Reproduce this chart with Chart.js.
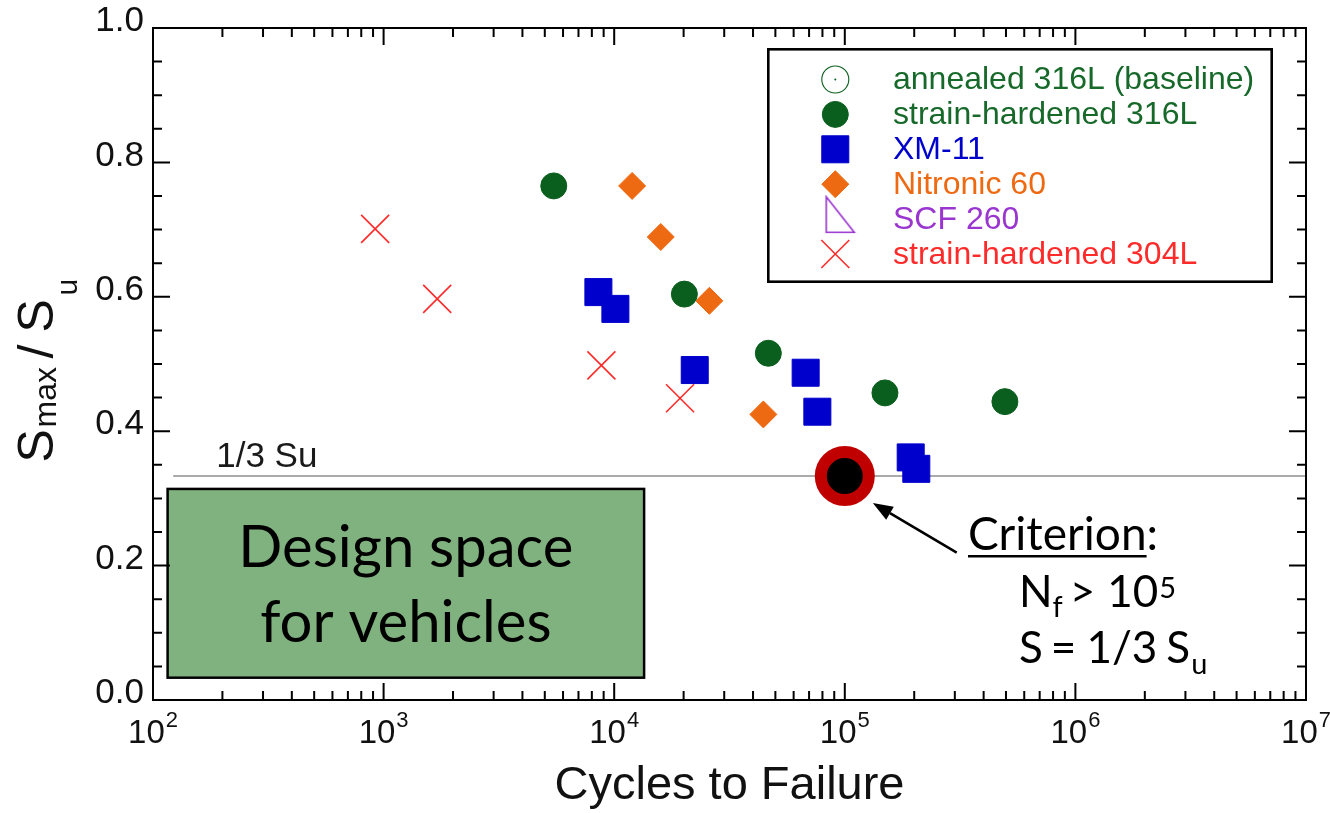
<!DOCTYPE html>
<html>
<head>
<meta charset="utf-8">
<title>Fatigue life of strain-hardened stainless steels</title>
<script src="https://cdn.jsdelivr.net/npm/chart.js@4.4.1/dist/chart.umd.min.js"></script>
<style>
  html, body { margin: 0; padding: 0; background: #ffffff; }
  #wrap { width: 1330px; height: 813px; position: relative; }
</style>
</head>
<body>
<div id="wrap"><canvas id="chart" width="1330" height="813"></canvas></div>
<script>
// ---- data: cycles to failure (N) and normalised max stress (Smax/Su) ----
const seriesNames = ['annealed 316L (baseline)', 'strain-hardened 316L', 'XM-11', 'Nitronic 60', 'SCF 260', 'strain-hardened 304L'];

const annealed316L_N = [];
const annealed316L_S = [];

const sh316L_N = [5470, 20150, 46600, 149300, 494600];
const sh316L_S = [0.765, 0.604, 0.516, 0.457, 0.444];

const xm11_N = [8540, 10120, 22350, 67650, 76030, 193100, 204200];
const xm11_S = [0.607, 0.582, 0.491, 0.487, 0.429, 0.361, 0.344];

const nitronic60_N = [11960, 15920, 25860, 44340];
const nitronic60_S = [0.765, 0.689, 0.594, 0.425];

const scf260_N = [];
const scf260_S = [];

const sh304L_N = [919, 1708, 8800, 19300];
const sh304L_S = [0.701, 0.597, 0.498, 0.449];

// design criterion: Nf > 1e5 at S = 1/3 Su
const criterionN = [1e5];
const criterionS = [1 / 3];
const thirdSuLevel = 1 / 3;

// shaded "design space" region (N range, S range)
const designSpaceN = [115.7, 13480];
const designSpaceS = [0.0332, 0.3141];

// axis ticks
const xDecades = [1e2, 1e3, 1e4, 1e5, 1e6, 1e7];
const yTickValues = [0, 0.2, 0.4, 0.6, 0.8, 1.0];

const pts = (xs, ys) => xs.map((x, i) => ({ x: x, y: ys[i] }));

const HELV = '"Liberation Sans", Arial, Helvetica, sans-serif';
const CALI = 'Lato, "Open Sans", sans-serif';

const GREEN = '#0b5f1e';
const BLUE = '#0000cd';
const ORANGE = '#ee6a12';
const PURPLE = '#9a35d0';
const RED = '#ff2a2a';

// right-triangle marker used for SCF 260
function makeRightTriangle() {
  const c = document.createElement('canvas');
  c.width = 44; c.height = 48;
  const g = c.getContext('2d');
  g.strokeStyle = PURPLE;
  g.lineWidth = 1.6;
  g.beginPath();
  g.moveTo(13, 1.7);
  g.lineTo(13, 37.3);
  g.lineTo(41, 37.3);
  g.closePath();
  g.stroke();
  return c;
}

const datasets = [
  { label: seriesNames[0], data: pts(annealed316L_N, annealed316L_S), pointStyle: 'circle', pointRadius: 13.5,
    backgroundColor: 'rgba(0,0,0,0)', borderColor: GREEN, borderWidth: 1.1, textColor: '#17692a', centerDot: true },
  { label: seriesNames[1], data: pts(sh316L_N, sh316L_S), pointStyle: 'circle', pointRadius: 13,
    backgroundColor: GREEN, borderColor: GREEN, borderWidth: 1, textColor: '#17692a' },
  { label: seriesNames[2], data: pts(xm11_N, xm11_S), pointStyle: 'rect', pointRadius: 19.1,
    backgroundColor: BLUE, borderColor: BLUE, borderWidth: 1, textColor: BLUE },
  { label: seriesNames[3], data: pts(nitronic60_N, nitronic60_S), pointStyle: 'rectRot', pointRadius: 13.5,
    backgroundColor: ORANGE, borderColor: ORANGE, borderWidth: 1, textColor: ORANGE },
  { label: seriesNames[4], data: pts(scf260_N, scf260_S), pointStyle: makeRightTriangle(), pointRadius: 14,
    backgroundColor: PURPLE, borderColor: PURPLE, borderWidth: 1.6, textColor: PURPLE },
  { label: seriesNames[5], data: pts(sh304L_N, sh304L_S), pointStyle: 'crossRot', pointRadius: 19.8,
    backgroundColor: RED, borderColor: RED, borderWidth: 1.6, textColor: RED },
  { label: 'criterion', data: pts(criterionN, criterionS), pointStyle: 'circle', pointRadius: 24,
    backgroundColor: '#000000', borderColor: '#c00000', borderWidth: 12, inLegend: false }
];

// text runs placed at fixed x; each run: [text, size, baselineShift, x]
function drawRunsAt(ctx, y, runs, family, color) {
  ctx.fillStyle = color;
  ctx.textAlign = 'left';
  ctx.textBaseline = 'alphabetic';
  for (const r of runs) {
    ctx.font = r[1] + 'px ' + family;
    ctx.fillText(r[0], r[3], y + (r[2] || 0));
  }
}

// text runs laid out one after another; each run: [text, size, baselineShift, gapAfter]
function drawRunsSeq(ctx, x, y, runs, family, color) {
  ctx.fillStyle = color;
  ctx.textAlign = 'left';
  ctx.textBaseline = 'alphabetic';
  let cx = x;
  const spans = [];
  for (const r of runs) {
    ctx.font = r[1] + 'px ' + family;
    ctx.fillText(r[0], cx, y + (r[2] || 0));
    const w = ctx.measureText(r[0]).width;
    spans.push([cx, w]);
    cx += w + (r[3] || 0);
  }
  return spans;
}

function legendSymbol(ctx, ds, x, y) {
  ctx.save();
  const st = ds.pointStyle;
  if (st instanceof HTMLCanvasElement) {
    ctx.drawImage(st, x - st.width / 2, y - st.height / 2);
    ctx.restore();
    return;
  }
  ctx.fillStyle = ds.backgroundColor;
  ctx.strokeStyle = ds.borderColor;
  ctx.lineWidth = ds.borderWidth;
  const r = ds.pointRadius;
  ctx.beginPath();
  if (st === 'circle') {
    ctx.arc(x, y, r, 0, Math.PI * 2);
  } else if (st === 'rect') {
    const h = r * Math.SQRT1_2;
    ctx.rect(x - h, y - h, 2 * h, 2 * h);
  } else if (st === 'rectRot') {
    ctx.moveTo(x - r, y); ctx.lineTo(x, y - r); ctx.lineTo(x + r, y); ctx.lineTo(x, y + r); ctx.closePath();
  } else if (st === 'crossRot') {
    const d = r * Math.SQRT1_2;
    ctx.moveTo(x - d, y - d); ctx.lineTo(x + d, y + d);
    ctx.moveTo(x + d, y - d); ctx.lineTo(x - d, y + d);
  }
  if (st !== 'crossRot') ctx.fill();
  ctx.stroke();
  if (ds.centerDot) {
    ctx.beginPath();
    ctx.fillStyle = ds.borderColor;
    ctx.arc(x, y, 1, 0, Math.PI * 2);
    ctx.fill();
  }
  ctx.restore();
}

const decorations = {
  id: 'decorations',
  beforeDatasetsDraw(chart) {
    const ctx = chart.ctx;
    const xs = chart.scales.x, ys = chart.scales.y;
    const area = chart.chartArea;
    ctx.save();

    // 1/3 Su reference line
    const yThird = ys.getPixelForValue(thirdSuLevel);
    ctx.strokeStyle = '#aaaaaa';
    ctx.lineWidth = 2;
    ctx.beginPath();
    ctx.moveTo(xs.getPixelForValue(122.4), yThird);
    ctx.lineTo(area.right, yThird);
    ctx.stroke();
    ctx.font = '35px ' + HELV;
    ctx.fillStyle = '#1a1a1a';
    ctx.textAlign = 'left';
    ctx.textBaseline = 'alphabetic';
    ctx.fillText('1/3 Su', xs.getPixelForValue(188), yThird - 9.5);

    // design space box
    const bx0 = xs.getPixelForValue(designSpaceN[0]);
    const bx1 = xs.getPixelForValue(designSpaceN[1]);
    const by0 = ys.getPixelForValue(designSpaceS[1]);
    const by1 = ys.getPixelForValue(designSpaceS[0]);
    ctx.fillStyle = '#80b27f';
    ctx.fillRect(bx0, by0, bx1 - bx0, by1 - by0);
    ctx.strokeStyle = '#000000';
    ctx.lineWidth = 2.5;
    ctx.strokeRect(bx0, by0, bx1 - bx0, by1 - by0);
    ctx.fillStyle = '#000000';
    ctx.font = '58px ' + CALI;
    ctx.textAlign = 'center';
    const bcx = (bx0 + bx1) / 2;
    ctx.fillText('Design space', bcx, by0 + 78);
    ctx.fillText('for vehicles', bcx, by0 + 153);

    ctx.restore();
  },
  afterDatasetsDraw(chart) {
    const ctx = chart.ctx;
    const xs = chart.scales.x, ys = chart.scales.y;
    const a = chart.chartArea;
    ctx.save();

    // plot frame
    ctx.strokeStyle = '#000000';
    ctx.lineWidth = 2;
    ctx.strokeRect(a.left, a.top, a.right - a.left, a.bottom - a.top);

    // inward tick marks on all four sides
    ctx.beginPath();
    for (let i = 0; i <= 20; i++) {
      const y = ys.getPixelForValue(i / 20);
      const len = (i % 4 === 0) ? 17 : 9;
      ctx.moveTo(a.left, y); ctx.lineTo(a.left + len, y);
      ctx.moveTo(a.right, y); ctx.lineTo(a.right - len, y);
    }
    for (let d = 0; d < xDecades.length; d++) {
      const base = xDecades[d];
      const kMax = (d === xDecades.length - 1) ? 1 : 9;
      for (let k = 1; k <= kMax; k++) {
        const x = xs.getPixelForValue(base * k);
        const len = (k === 1) ? 17 : 9;
        ctx.moveTo(x, a.bottom); ctx.lineTo(x, a.bottom - len);
        ctx.moveTo(x, a.top); ctx.lineTo(x, a.top + len);
      }
    }
    ctx.stroke();

    // x tick labels as powers of ten
    for (const v of xDecades) {
      const x = xs.getPixelForValue(v);
      const exp = String(Math.round(Math.log10(v)));
      ctx.font = '33px ' + HELV;
      const wb = ctx.measureText('10').width;
      ctx.font = '22px ' + HELV;
      const we = ctx.measureText(exp).width;
      const x0 = x - (wb + 1 + we) / 2;
      drawRunsAt(ctx, a.bottom + 43, [['10', 33, 0, x0], [exp, 22, -16, x0 + wb + 1]], HELV, '#111111');
    }

    // y axis title  S_max / S_u (reads bottom to top)
    ctx.save();
    ctx.translate(52.5, 462.5);
    ctx.rotate(-Math.PI / 2);
    drawRunsAt(ctx, 0, [['S', 50, 0, 0], ['max', 32, 3, 35], ['/', 50, 0, 104], ['S', 50, 0, 130], ['u', 30, 24, 167]], HELV, '#111111');
    ctx.restore();

    ctx.restore();
  },
  afterDraw(chart) {
    const ctx = chart.ctx;
    const xs = chart.scales.x, ys = chart.scales.y;
    ctx.save();

    // legend
    const lx0 = 768.3, ly0 = 49.3, lx1 = 1271.7, ly1 = 281.7;
    ctx.fillStyle = '#ffffff';
    ctx.fillRect(lx0, ly0, lx1 - lx0, ly1 - ly0);
    ctx.strokeStyle = '#000000';
    ctx.lineWidth = 2.6;
    ctx.strokeRect(lx0, ly0, lx1 - lx0, ly1 - ly0);
    let row = 0;
    for (const ds of chart.data.datasets) {
      if (ds.inLegend === false) continue;
      const ry = 79.5 + row * 34.9;
      legendSymbol(ctx, ds, 835.3, ry);
      ctx.font = '32px ' + HELV;
      ctx.fillStyle = ds.textColor;
      ctx.textAlign = 'left';
      ctx.textBaseline = 'middle';
      ctx.fillText(ds.label, 893, ry + 1);
      row++;
    }

    // criterion callout
    const px = xs.getPixelForValue(criterionN[0]);
    const py = ys.getPixelForValue(criterionS[0]);
    const tipX = px + 28, tipY = py + 27;
    const tailX = 956.7, tailY = 552.7;
    const ang = Math.atan2(tipY - tailY, tipX - tailX);
    const hl = 20, hw = 7.5;
    const bxp = tipX - hl * Math.cos(ang), byp = tipY - hl * Math.sin(ang);
    ctx.strokeStyle = '#000000';
    ctx.lineWidth = 2.5;
    ctx.beginPath();
    ctx.moveTo(tailX, tailY);
    ctx.lineTo(bxp, byp);
    ctx.stroke();
    ctx.fillStyle = '#000000';
    ctx.beginPath();
    ctx.moveTo(tipX, tipY);
    ctx.lineTo(bxp + hw * Math.sin(ang), byp - hw * Math.cos(ang));
    ctx.lineTo(bxp - hw * Math.sin(ang), byp + hw * Math.cos(ang));
    ctx.closePath();
    ctx.fill();

    const sp = drawRunsSeq(ctx, 968, 550, [['Criterion', 46, 0], [':', 46, 0]], CALI, '#000000');
    ctx.fillRect(sp[0][0], 555, sp[0][1], 2.5);
    drawRunsSeq(ctx, 1019, 607, [['N', 44, 0, 0], ['f', 29, 10, 7], ['>', 44, 0, 12], ['10', 44, 0, 1], ['5', 29, -9]], CALI, '#000000');
    drawRunsSeq(ctx, 1019, 663, [['S', 44, 0, 8], ['=', 44, 0, 10], ['1/3', 44, 0, 9], ['S', 44, 0, 1], ['u', 29, 11]], CALI, '#000000');

    ctx.restore();
  }
};

const chart = new Chart(document.getElementById('chart').getContext('2d'), {
  type: 'scatter',
  data: { datasets: datasets },
  options: {
    responsive: false,
    animation: false,
    devicePixelRatio: 1,
    layout: { autoPadding: false, padding: { top: 28, right: 24, left: 0, bottom: 0 } },
    plugins: {
      legend: { display: false },
      tooltip: { enabled: false }
    },
    scales: {
      x: {
        type: 'logarithmic',
        min: xDecades[0],
        max: xDecades[xDecades.length - 1],
        grid: { display: false, drawTicks: false },
        border: { display: false },
        ticks: { display: false },
        title: {
          display: true,
          text: 'Cycles to Failure',
          color: '#111111',
          font: { family: HELV, size: 47, lineHeight: 1 },
          padding: { top: 0, bottom: 3 }
        },
        afterFit(scale) {
          scale.height = 113;
          scale.paddingLeft = 0; scale.paddingRight = 0;
          scale.paddingTop = 0; scale.paddingBottom = 0;
        }
      },
      y: {
        type: 'linear',
        min: yTickValues[0],
        max: yTickValues[yTickValues.length - 1],
        grid: { display: false, drawTicks: false },
        border: { display: false },
        afterBuildTicks(scale) { scale.ticks = yTickValues.map(v => ({ value: v })); },
        ticks: {
          color: '#111111',
          font: { family: HELV, size: 35 },
          padding: 9,
          labelOffset: -6.5,
          callback: v => Number(v).toFixed(1)
        },
        afterFit(scale) {
          scale.width = 153;
          scale.paddingLeft = 0; scale.paddingRight = 0;
          scale.paddingTop = 0; scale.paddingBottom = 0;
        }
      }
    }
  },
  plugins: [decorations]
});
</script>
</body>
</html>
